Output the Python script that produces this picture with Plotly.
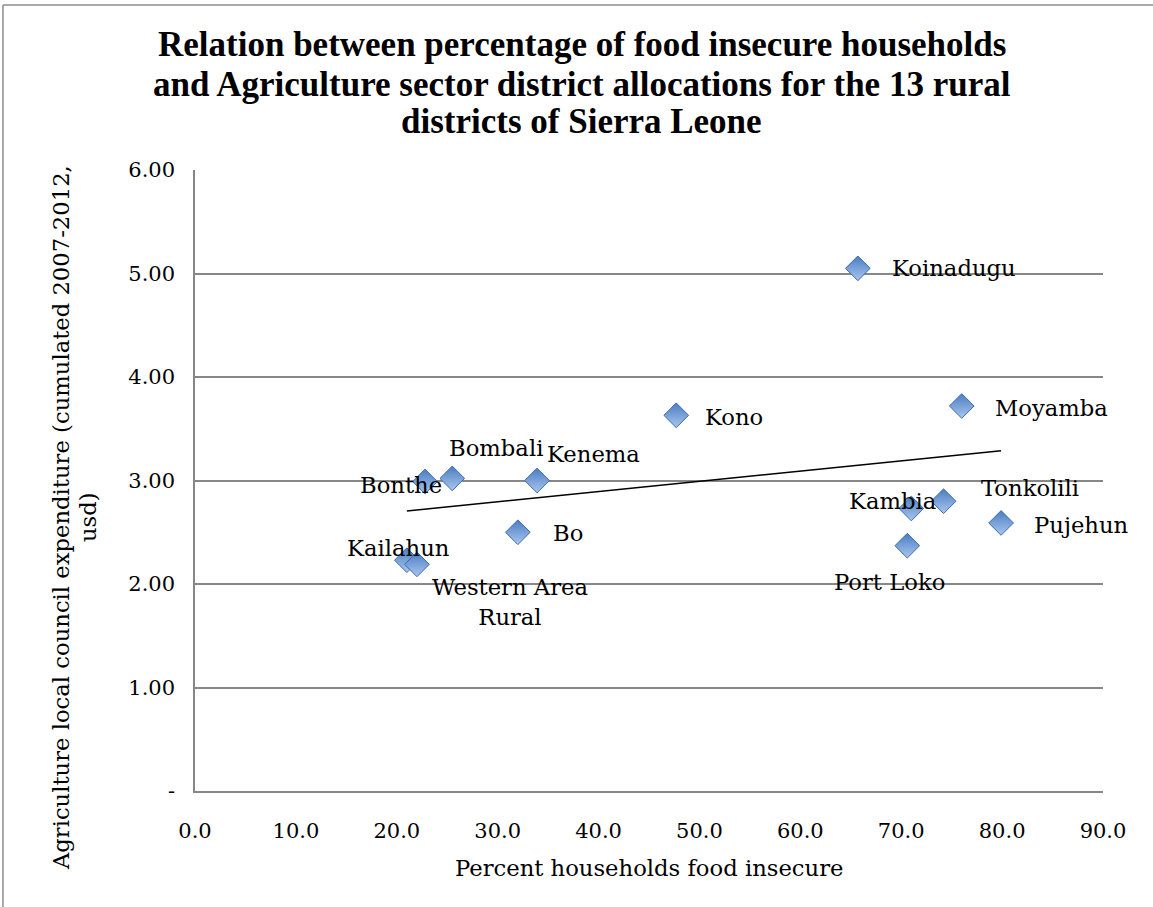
import numpy as np
import plotly.graph_objects as go

# ---- data ----
districts = ["Koinadugu", "Kono", "Moyamba", "Bombali", "Kenema", "Bonthe", "Bo",
             "Kailahun", "Western Area<br>Rural", "Kambia", "Tonkolili", "Pujehun", "Port Loko"]
food_insecure_pct = [65.7, 47.7, 76.0, 25.5, 33.9, 22.8, 32.0, 21.0, 22.0, 71.0, 74.2, 79.9, 70.6]
agri_expenditure = [5.05, 3.63, 3.72, 3.02, 3.00, 2.99, 2.50, 2.23, 2.19, 2.73, 2.80, 2.59, 2.37]

y_tick_vals = [0, 1, 2, 3, 4, 5, 6]
y_tick_text = ["-", "1.00", "2.00", "3.00", "4.00", "5.00", "6.00"]
x_tick_vals = [0, 10, 20, 30, 40, 50, 60, 70, 80, 90]
x_tick_text = ["0.0", "10.0", "20.0", "30.0", "40.0", "50.0", "60.0", "70.0", "80.0", "90.0"]

title_lines = ["Relation between percentage of food insecure households",
               "and Agriculture sector district allocations for the 13 rural",
               "districts of Sierra Leone"]
x_title = "Percent households food insecure"
y_title_lines = ["Agriculture local council expenditure (cumulated 2007-2012,", "usd)"]

# label offsets in pixels (dx to the right, dy downward) -- style only
label_offsets = [(96, 0), (58, 2), (90, 2), (44, -30), (56, -27), (-24, 3), (50, 1),
                 (-9, -12), (93, 38), (-19, -7), (86, -13), (80, 2), (-18, 36)]

FONT = "DejaVu Serif"
GRID = "#878787"
LBL = 22.7

# linear trendline (least squares) over the data
slope, intercept = np.polyfit(food_insecure_pct, agri_expenditure, 1)
tx = [min(food_insecure_pct), max(food_insecure_pct)]
ty = [slope * v + intercept for v in tx]

fig = go.Figure()
fig.add_trace(go.Scatter(x=tx, y=ty, mode="lines",
                         line=dict(color="black", width=1.5),
                         hoverinfo="skip", showlegend=False))
fig.add_trace(go.Scatter(
    x=food_insecure_pct, y=agri_expenditure, mode="markers",
    marker=dict(symbol="diamond", size=19, color="#4A7DC2",
                gradient=dict(type="vertical", color="#A9C6EE"),
                line=dict(color="#3D6BAA", width=1)),
    text=districts, showlegend=False))

for name, xv, yv, (dx, dy) in zip(districts, food_insecure_pct, agri_expenditure, label_offsets):
    fig.add_annotation(x=xv, y=yv, text=name, showarrow=False,
                       xanchor="center", yanchor="middle",
                       xshift=dx, yshift=-dy,
                       font=dict(family=FONT, size=LBL, color="black"))

# chart title, one annotation per line (for Excel-like line spacing)
for line, ypos in zip(title_lines, [1.2013, 1.1369, 1.0773]):
    fig.add_annotation(xref="paper", yref="paper", x=0.426, y=ypos, text=line,
                       showarrow=False, xanchor="center", yanchor="middle",
                       font=dict(family="Liberation Serif", size=35, color="black",
                                 weight="bold"))

# axis titles
fig.add_annotation(xref="paper", yref="paper", x=0.5, y=-0.124,
                   text=x_title, showarrow=False,
                   xanchor="center", yanchor="middle",
                   font=dict(family=FONT, size=LBL, color="black"))
for line, xpos in zip(y_title_lines, [-0.1476, -0.118]):
    fig.add_annotation(xref="paper", yref="paper", x=xpos, y=0.441,
                       text=line, showarrow=False, textangle=-90,
                       xanchor="center", yanchor="middle",
                       font=dict(family=FONT, size=LBL, color="black"))

# outer chart border (left and top visible in the reference crop)
fig.add_shape(type="line", xref="paper", yref="paper", x0=-0.2115, x1=-0.2115,
              y0=1.2657, y1=-0.3, line=dict(color="#8c8c8c", width=1.5))
fig.add_shape(type="line", xref="paper", yref="paper", x0=-0.2115, x1=1.2,
              y0=1.2657, y1=1.2657, line=dict(color="#8c8c8c", width=1.5))

fig.update_layout(
    width=1153, height=907,
    margin=dict(l=195, r=50, t=170, b=116),
    paper_bgcolor="white", plot_bgcolor="white",
    xaxis=dict(range=[0, 90], tickvals=x_tick_vals, ticktext=x_tick_text,
               showgrid=False, zeroline=False, showline=True, linecolor=GRID, linewidth=1.5,
               ticks="", ticklabelstandoff=20,
               tickfont=dict(family=FONT, size=21, color="black")),
    yaxis=dict(range=[0, 6], tickvals=y_tick_vals, ticktext=y_tick_text,
               showgrid=True, gridcolor=GRID, gridwidth=1.5,
               zeroline=False, showline=True, linecolor=GRID, linewidth=1.5,
               ticks="", ticklabelstandoff=14,
               tickfont=dict(family=FONT, size=21, color="black")),
)

fig.write_html("out.html", config={"displayModeBar": False},
               post_script="document.body.style.margin='0';document.body.style.overflow='hidden';")
